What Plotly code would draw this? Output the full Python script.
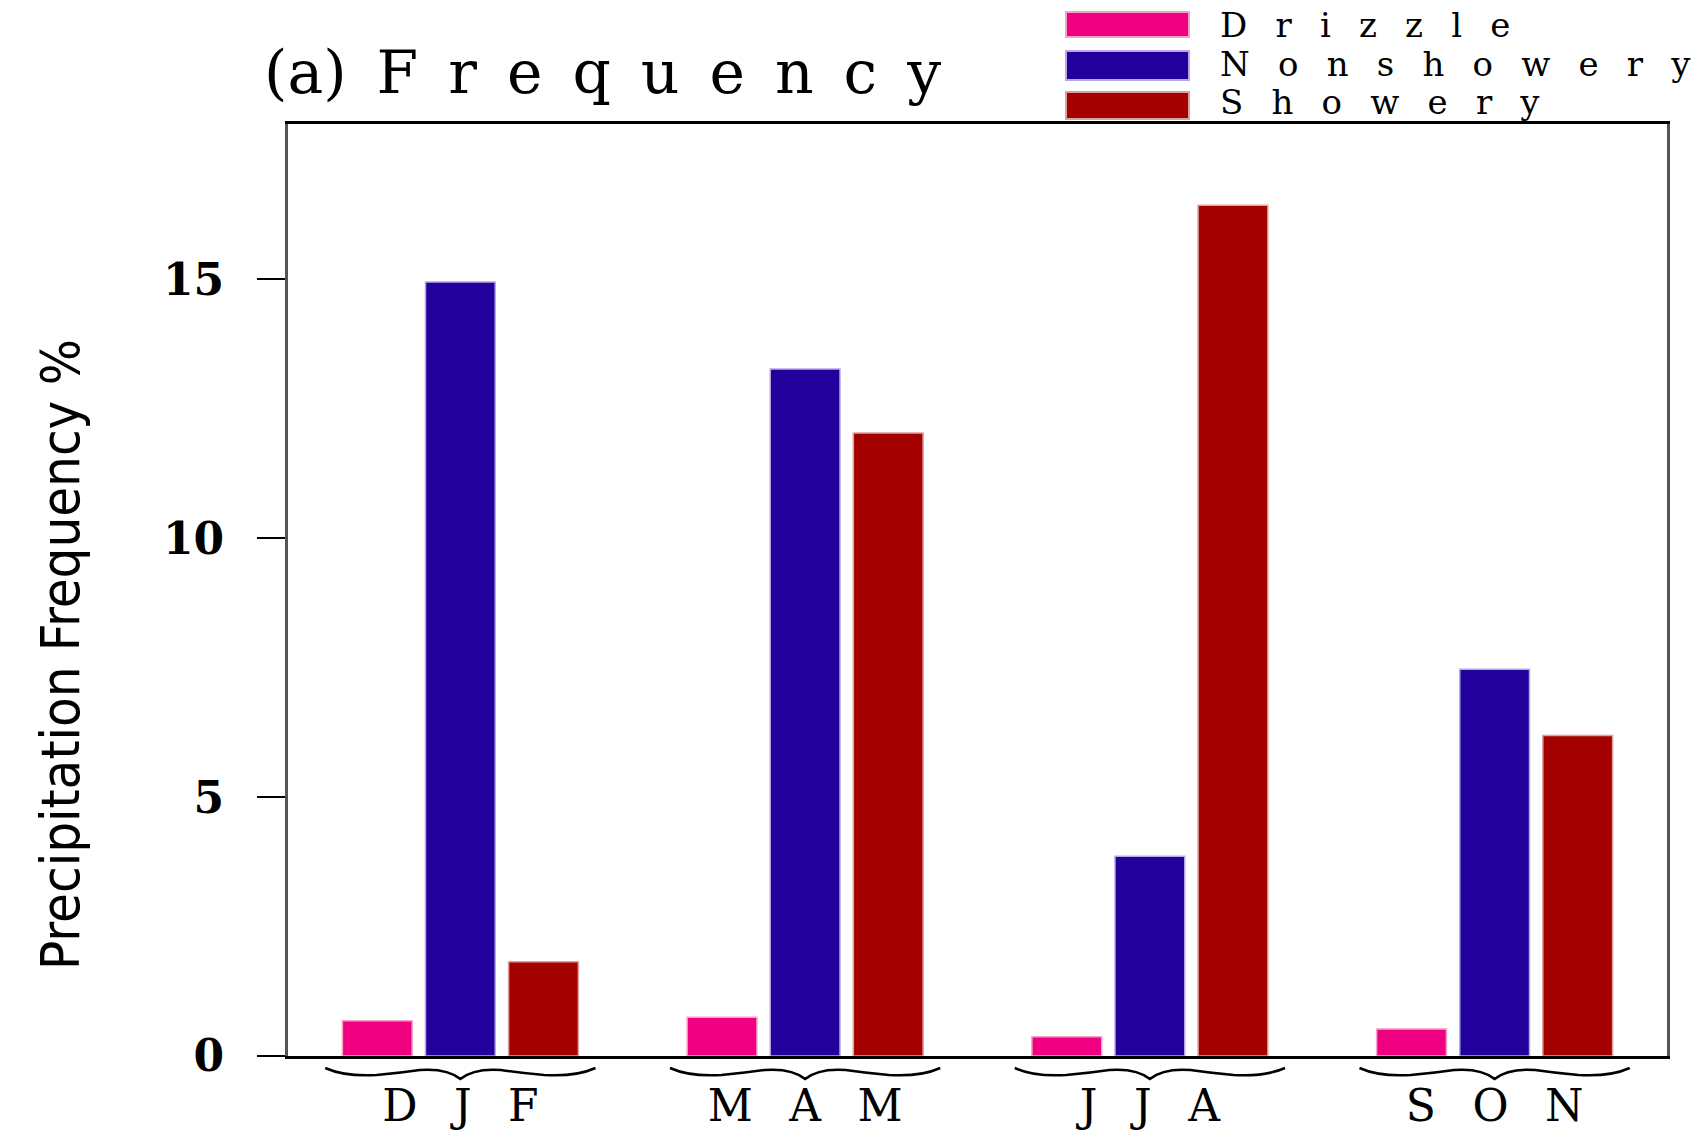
import plotly.graph_objects as go

seasons = ["DJF", "MAM", "JJA", "SON"]
series_names = ["Drizzle", "Nonshowery", "Showery"]
drizzle = [0.68, 0.75, 0.37, 0.52]
nonshowery = [14.95, 13.27, 3.86, 7.47]
showery = [1.82, 12.03, 16.43, 6.19]
y_tickvals = [0, 5, 10, 15]
y_ticktext = ["0", "5", "10", "15"]

colors = ["#EE0080", "#22009C", "#A50000"]
edge_colors = ["#F8A0CC", "#B8A8E8", "#E0A0A0"]
values = [drizzle, nonshowery, showery]

W, H = 1706, 1130
L, R, T, B = 288, 39, 124, 74
PW, PH = W - L - R, H - T - B

def px_x(px):
    return (px - L) / PW

def px_y(py):
    return (H - B - py) / PH

fig = go.Figure()
for name, vals, c, ec in zip(series_names, values, colors, edge_colors):
    fig.add_trace(go.Bar(x=seasons, y=vals, name=name,
                         marker=dict(color=c, line=dict(color=ec, width=1.5)),
                         showlegend=False))

serif = "DejaVu Serif, Liberation Serif, serif"
EM = "\u2003"
EN = "\u2002"
P3 = "\u2004"

fig.update_layout(
    width=W, height=H,
    margin=dict(l=L, r=R, t=T, b=B, pad=0, autoexpand=False),
    paper_bgcolor="white", plot_bgcolor="white",
    barmode="group", bargap=0.277, bargroupgap=0.16,
    xaxis=dict(type="category", range=[-0.5, 3.5], automargin=False,
               tickvals=seasons, ticktext=[(EN + P3).join(s) for s in seasons],
               showline=True, linecolor="black", linewidth=3, mirror=True,
               ticks="", showgrid=False, zeroline=False,
               tickfont=dict(family="DejaVu Serif, serif", size=44, color="black"),
               ticklabelstandoff=9),
    yaxis=dict(range=[0, 18], tickvals=y_tickvals, ticktext=y_ticktext, automargin=False,
               showline=True, linecolor="#555555", linewidth=3, mirror=True,
               ticks="outside", ticklen=28, tickwidth=2, tickcolor="black",
               showgrid=False, zeroline=False,
               tickfont=dict(family="DejaVu Serif, serif", size=44, color="black", weight="bold"),
               ticklabelstandoff=24),
)

# braces under each season group
def brace_path(i):
    hw = 0.392
    def X(f):
        return i + f * hw
    def Y(p):
        return -p / PH
    d = (f"M {X(-1)},{Y(12)} "
         f"Q {X(-0.85)},{Y(21)} {X(-0.62)},{Y(19)} "
         f"Q {X(-0.45)},{Y(17)} {X(-0.3)},{Y(14)} "
         f"Q {X(-0.1)},{Y(12)} {X(0)},{Y(23)} "
         f"Q {X(0.1)},{Y(12)} {X(0.3)},{Y(14)} "
         f"Q {X(0.45)},{Y(17)} {X(0.62)},{Y(19)} "
         f"Q {X(0.85)},{Y(21)} {X(1)},{Y(12)}")
    return d

for i, s in enumerate(seasons):
    fig.add_shape(type="path", path=brace_path(i), xref="x", yref="paper",
                  line=dict(color="black", width=2.5), layer="above")

# title
title = "(a)" + EN + EN.join("Frequency")
fig.add_annotation(text=title, x=px_x(262), y=px_y(72), xref="paper", yref="paper",
                   xanchor="left", yanchor="middle", showarrow=False,
                   font=dict(family=serif, size=60, color="black"))

# y title
fig.add_annotation(text="Precipitation Frequency %", x=px_x(60), y=px_y(655),
                   xref="paper", yref="paper", textangle=-90, showarrow=False,
                   xanchor="center", yanchor="middle",
                   font=dict(family="Liberation Sans Narrow, DejaVu Sans Condensed, Liberation Sans, sans-serif",
                             size=54, color="black"))

# legend drawn manually
sw_rows = [(12, 37), (51, 80), (92, 119)]
txt_y = [25, 64, 102]
for (y0, y1), ty, name, c, ec in zip(sw_rows, txt_y, series_names, colors, edge_colors):
    fig.add_shape(type="rect", xref="paper", yref="paper",
                  x0=px_x(1066), x1=px_x(1189), y0=px_y(y1), y1=px_y(y0),
                  fillcolor=c, line=dict(color=ec, width=2), layer="above")
    fig.add_annotation(text=(EN + P3).join(name), x=px_x(1218), y=px_y(ty), xref="paper", yref="paper",
                       xanchor="left", yanchor="middle", showarrow=False,
                       font=dict(family=serif, size=34, color="black"))

fig.write_html("out.html")
